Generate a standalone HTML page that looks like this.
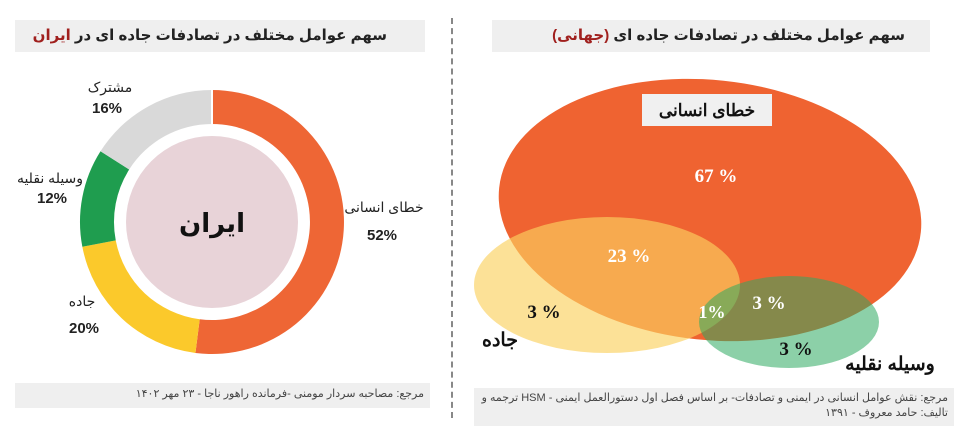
<!DOCTYPE html><html><head><meta charset="utf-8"><style>
body{margin:0;width:954px;height:438px;background:#fff;overflow:hidden;font-family:"Liberation Sans","DejaVu Sans",sans-serif;position:relative}
.t{position:absolute;background:#efefef;direction:rtl;font-weight:bold;font-size:15px;color:#222;box-sizing:border-box;padding-right:25px;line-height:32px;white-space:nowrap;overflow:hidden}
.f{position:absolute;background:#efefef;direction:rtl;font-size:11px;color:#444;box-sizing:border-box;padding:4px 6px;line-height:15px}
</style></head><body>
<div class="t" style="left:15px;top:20px;width:410px;height:32px;padding-right:38px">سهم عوامل مختلف در تصادفات جاده ای در <span style="color:#a0201e">ایران</span></div>
<div class="t" style="left:492px;top:20px;width:438px;height:32px;padding-right:25px">سهم عوامل مختلف در تصادفات جاده ای <span style="color:#a0201e">(جهانی)</span></div>
<div style="position:absolute;left:451px;top:18px;height:400px;border-left:2px dashed #888"></div>
<svg width="954" height="438" style="position:absolute;left:0;top:0">
<g transform="translate(212,222)">
<path d="M0,-132 A132,132 0 1 1 -16.55,130.96 L-12.29,97.23 A98,98 0 1 0 0,-98Z" fill="#ee6635"/>
<path d="M-16.55,130.96 A132,132 0 0 1 -129.66,24.74 L-96.26,18.37 A98,98 0 0 0 -12.29,97.23Z" fill="#fbc92b"/>
<path d="M-129.66,24.74 A132,132 0 0 1 -111.5,-70.7 L-82.8,-52.5 A98,98 0 0 0 -96.26,18.37Z" fill="#1f9d4f"/>
<path d="M-111.5,-70.7 A132,132 0 0 1 0,-132 L0,-98 A98,98 0 0 0 -82.8,-52.5Z" fill="#d9d9d9"/>
<line x1="0" y1="-132" x2="0" y2="-98" stroke="#fff" stroke-width="2"/>
<circle r="86" fill="#e8d3d8"/>
<text y="10" text-anchor="middle" font-size="26" font-weight="bold" fill="#111">ایران</text>
</g>
<g font-family="Liberation Sans,DejaVu Sans,sans-serif" fill="#222" text-anchor="middle">
<text x="110" y="92" font-size="14">مشترک</text><text x="107" y="113" font-size="15" font-weight="bold">16%</text>
<text x="50" y="183" font-size="14">وسیله نقلیه</text><text x="52" y="203" font-size="15" font-weight="bold">12%</text>
<text x="82" y="306" font-size="14">جاده</text><text x="84" y="333" font-size="15" font-weight="bold">20%</text>
<text x="384" y="212" font-size="14">خطای انسانی</text><text x="382" y="240" font-size="15" font-weight="bold">52%</text>
</g>
<ellipse cx="710" cy="210" rx="212" ry="130" fill="#ef6331" transform="rotate(6 710 210)"/>
<ellipse cx="607" cy="285" rx="133" ry="68" fill="#fbd160" opacity="0.65"/>
<ellipse cx="789" cy="322" rx="90" ry="46" fill="#2ea961" opacity="0.55"/>
<rect x="642" y="94" width="130" height="32" fill="#f0f0f0"/>
<g font-family="Liberation Serif,DejaVu Serif,serif" font-weight="bold" text-anchor="middle">
<text x="707" y="116" font-size="17" fill="#111" font-family="Liberation Sans,sans-serif">خطای انسانی</text>
<text x="716" y="182" font-size="19" fill="#fff">67 %</text>
<text x="629" y="262" font-size="19" fill="#fff">23 %</text>
<text x="544" y="318" font-size="19" fill="#111">3 %</text>
<text x="712" y="318" font-size="18" fill="#fff">1%</text>
<text x="769" y="309" font-size="19" fill="#fff">3 %</text>
<text x="796" y="355" font-size="19" fill="#111">3 %</text>
<text x="500" y="346" font-size="19" fill="#111" font-family="Liberation Sans,sans-serif">جاده</text>
<text x="890" y="370" font-size="19" fill="#111" font-family="Liberation Sans,sans-serif">وسیله نقلیه</text>
</g>
</svg>
<div class="f" style="left:15px;top:383px;width:415px;height:25px">مرجع: مصاحبه سردار مومنی -فرمانده راهور ناجا - ۲۳ مهر ۱۴۰۲</div>
<div class="f" style="left:474px;top:388px;width:480px;height:38px;padding-top:3px">مرجع: نقش عوامل انسانی در ایمنی و تصادفات- بر اساس فصل اول دستورالعمل ایمنی - HSM ترجمه و تالیف: حامد معروف - ۱۳۹۱</div>
</body></html>
